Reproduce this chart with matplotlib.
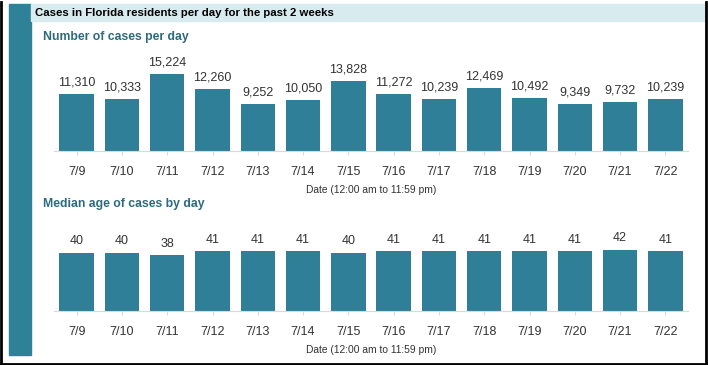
import matplotlib.pyplot as plt
from matplotlib.patches import Rectangle

# Data
dates = ["7/9", "7/10", "7/11", "7/12", "7/13", "7/14", "7/15",
         "7/16", "7/17", "7/18", "7/19", "7/20", "7/21", "7/22"]
cases = [11310, 10333, 15224, 12260, 9252, 10050, 13828,
         11272, 10239, 12469, 10492, 9349, 9732, 10239]
median_age = [40, 40, 38, 41, 41, 41, 40, 41, 41, 41, 41, 41, 42, 41]

teal = "#2e7f97"
text_col = "#333333"
plt.rcParams['font.family'] = ['Liberation Sans', 'DejaVu Sans']

fig = plt.figure(figsize=(7.08, 3.65), dpi=100)
W, H = 708, 365

# frame: left teal strip, title banner, black border
fig.patches.append(Rectangle((9 / W, (H - 355) / H), 22 / W, 351 / H,
                             transform=fig.transFigure, color="#2f8198", zorder=0))
fig.patches.append(Rectangle((31 / W, (H - 21) / H), 675 / W, 17 / H,
                             transform=fig.transFigure, color="#d8ebef", zorder=0))
for x0, y0, x1, y1 in [(1, 0, 1, H - 2), (706, 0, 706, H - 2), (0, 1.5, W, 1.5)]:
    fig.add_artist(plt.Line2D([x0 / W, x1 / W], [y0 / H, y1 / H],
                              transform=fig.transFigure, color="black", lw=2))

fig.text(35 / W, (H - 13) / H, "Cases in Florida residents per day for the past 2 weeks",
         fontsize=8.2, fontweight="bold", color="black", va="center")
fig.text(43 / W, (H - 37) / H, "Number of cases per day",
         fontsize=8.8, fontweight="bold", color="#2d6b7c", va="center")
fig.text(43 / W, (H - 204) / H, "Median age of cases by day",
         fontsize=8.8, fontweight="bold", color="#2d6b7c", va="center")

left = 54 / W
width = 634 / W
ax1 = fig.add_axes([left, (H - 150.7) / H, width, 100.5 / H])
ax2 = fig.add_axes([left, (H - 310.7) / H, width, 72.7 / H])

x = list(range(len(dates)))


def style(ax, values, ymax, fmt):
    bars = ax.bar(x, values, width=0.76, color=teal)
    ax.set_xlim(-0.5, 13.5)
    ax.set_ylim(0, ymax)
    ax.set_xticks(x)
    ax.set_xticklabels(dates, fontsize=9, color=text_col)
    ax.set_yticks([])
    for s in ["top", "right", "left"]:
        ax.spines[s].set_visible(False)
    ax.spines["bottom"].set_color("#d9d9d9")
    ax.tick_params(axis="x", length=3, color="#d9d9d9", pad=8)
    ax.patch.set_alpha(0)
    for b, v in zip(bars, values):
        ax.annotate(fmt.format(v), (b.get_x() + b.get_width() / 2, v),
                    xytext=(0, 4), textcoords="offset points",
                    ha="center", va="bottom", fontsize=9, color=text_col)
    ax.set_xlabel("Date (12:00 am to 11:59 pm)", fontsize=7.4, color=text_col, labelpad=5)


style(ax1, cases, 20000, "{:,}")
style(ax2, median_age, 50, "{}")

fig.savefig("out.png", dpi=100)
